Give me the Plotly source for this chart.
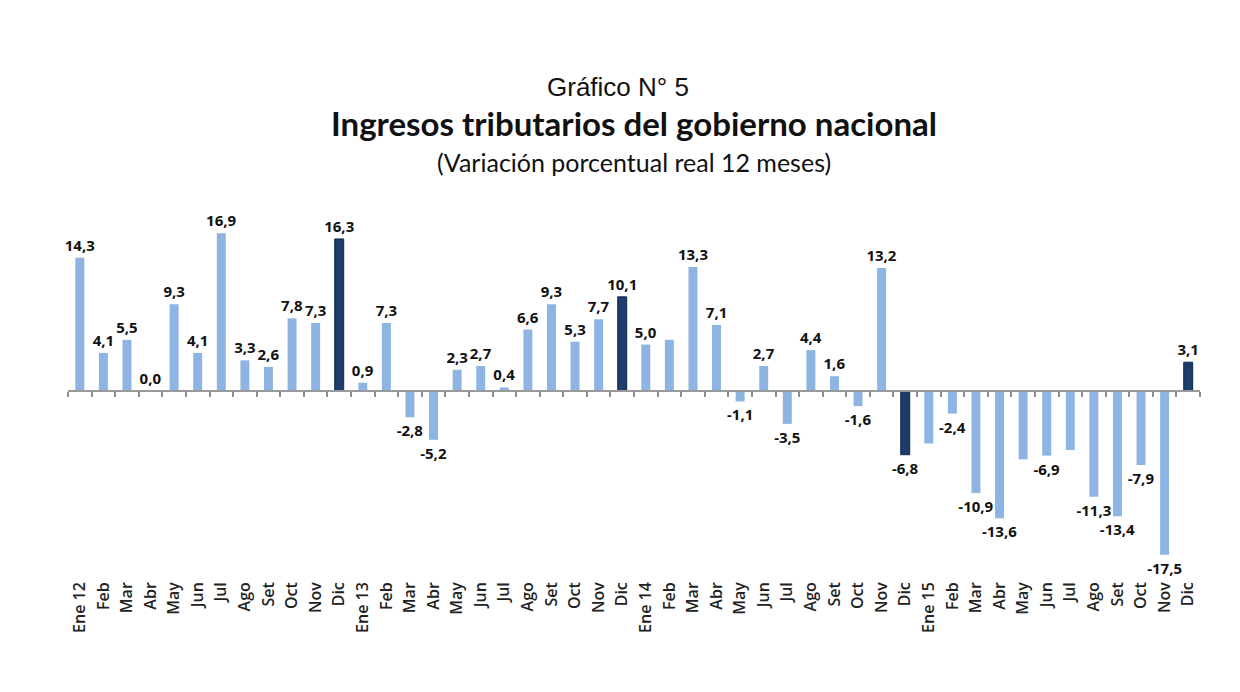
import plotly.graph_objects as go

months = ["Ene 12", "Feb", "Mar", "Abr", "May", "Jun", "Jul", "Ago", "Set", "Oct", "Nov", "Dic",
          "Ene 13", "Feb", "Mar", "Abr", "May", "Jun", "Jul", "Ago", "Set", "Oct", "Nov", "Dic",
          "Ene 14", "Feb", "Mar", "Abr", "May", "Jun", "Jul", "Ago", "Set", "Oct", "Nov", "Dic",
          "Ene 15", "Feb", "Mar", "Abr", "May", "Jun", "Jul", "Ago", "Set", "Oct", "Nov", "Dic"]

values = [14.3, 4.1, 5.5, 0.0, 9.3, 4.1, 16.9, 3.3, 2.6, 7.8, 7.3, 16.3,
          0.9, 7.3, -2.8, -5.2, 2.3, 2.7, 0.4, 6.6, 9.3, 5.3, 7.7, 10.1,
          5.0, 5.5, 13.3, 7.1, -1.1, 2.7, -3.5, 4.4, 1.6, -1.6, 13.2, -6.8,
          -5.6, -2.4, -10.9, -13.6, -7.3, -6.9, -6.3, -11.3, -13.4, -7.9, -17.5, 3.1]

# bars without a printed data label in the original
unlabeled = [25, 36, 40, 42]

light = "#8db4e2"
dark = "#1c3c6c"

x = list(range(len(months)))
texts = ["" if i in unlabeled else f"{v:.1f}".replace(".", ",") for i, v in enumerate(values)]
colors = [dark if m == "Dic" else light for m in months]
lines = ["#0f2748" if m == "Dic" else "rgba(0,0,0,0)" for m in months]

ymin, ymax = -20.0, 19.4

fig = go.Figure()
fig.add_trace(go.Bar(
    x=x, y=values, text=texts, textposition="outside", constraintext="none",
    textfont=dict(family="Open Sans", size=15, color="#111111", weight="bold"),
    marker=dict(color=colors, line=dict(color=lines, width=1)),
    cliponaxis=False, xaxis="x", showlegend=False, hoverinfo="skip",
))
# invisible companion trace so the zero-line axis (x2) is drawn
fig.add_trace(go.Scatter(
    x=x, y=values, mode="markers", marker=dict(opacity=0),
    xaxis="x2", showlegend=False, hoverinfo="skip",
))

fig.update_layout(
    width=1240, height=692,
    margin=dict(l=60, r=48, t=202, b=122),
    paper_bgcolor="white", plot_bgcolor="white",
    bargap=0.62,
    xaxis=dict(
        range=[-0.5, len(months) - 0.5],
        tickmode="array", tickvals=x, ticktext=months,
        tickangle=-90, ticks="", showline=False, showgrid=False, zeroline=False,
        tickfont=dict(family="Open Sans", size=16, color="#222222", weight=600),
        anchor="y",
    ),
    xaxis2=dict(
        range=[-0.5, len(months) - 0.5],
        overlaying="x", anchor="free", position=(0 - ymin) / (ymax - ymin),
        tickmode="array", tickvals=[i - 0.5 for i in range(len(months) + 1)],
        showticklabels=False, ticks="outside", ticklen=5, tickcolor="#8c8c8c", tickwidth=1.5,
        showline=True, linecolor="#9a9a9a", linewidth=1.5, showgrid=False, zeroline=False,
    ),
    yaxis=dict(range=[ymin, ymax], visible=False, showgrid=False, zeroline=False),
    annotations=[
        dict(text="Gráfico N° 5", x=0.486, y=1.334, xref="paper", yref="paper",
             showarrow=False, xanchor="center", yanchor="middle",
             font=dict(family="Liberation Sans", size=26, color="#111111")),
        dict(text="<b>Ingresos tributarios del gobierno nacional</b>", x=0.5, y=1.237,
             xref="paper", yref="paper", showarrow=False, xanchor="center", yanchor="middle",
             font=dict(family="Lato", size=33, color="#111111")),
        dict(text="(Variación porcentual real 12 meses)", x=0.5, y=1.13,
             xref="paper", yref="paper", showarrow=False, xanchor="center", yanchor="middle",
             font=dict(family="Lato", size=25, color="#111111")),
    ],
)

fig.write_html("out.html")
